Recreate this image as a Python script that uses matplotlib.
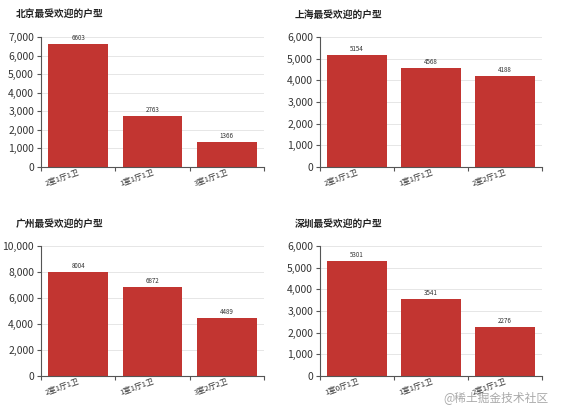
import matplotlib
matplotlib.use("Agg")
import matplotlib.pyplot as plt
from matplotlib.ticker import FuncFormatter

plt.rcParams['font.family'] = ['Noto Sans CJK SC', 'DejaVu Sans']

titles = ["北京最受欢迎的户型", "上海最受欢迎的户型", "广州最受欢迎的户型", "深圳最受欢迎的户型"]
bj_cats = ["2室1厅1卫", "1室1厅1卫", "3室1厅1卫"]
bj_vals = [6603, 2763, 1366]
sh_cats = ["2室1厅1卫", "1室1厅1卫", "2室2厅1卫"]
sh_vals = [5154, 4568, 4188]
gz_cats = ["2室1厅1卫", "1室1厅1卫", "3室2厅2卫"]
gz_vals = [8004, 6872, 4489]
sz_cats = ["1室0厅1卫", "1室1厅1卫", "2室1厅1卫"]
sz_vals = [5301, 3541, 2276]
y_max = [7000, 6000, 10000, 6000]
y_step = [1000, 1000, 2000, 1000]

BAR = '#c23531'
fig = plt.figure(figsize=(5.61, 4.15), dpi=100)

W, H = 561, 415
boxes = [(41, 37, 264, 167), (320, 37, 542, 167), (41, 246, 264, 376), (320, 246, 542, 376)]
title_pos = [(16, 15), (295, 15), (16, 224), (295, 224)]
data = [(bj_cats, bj_vals), (sh_cats, sh_vals), (gz_cats, gz_vals), (sz_cats, sz_vals)]

for i in range(4):
    l, t, r, b = boxes[i]
    ax = fig.add_axes([l / W, 1 - b / H, (r - l) / W, (b - t) / H])
    cats, vals = data[i]
    xs = list(range(len(cats)))
    ax.bar(xs, vals, width=0.8, color=BAR, zorder=2)
    ax.set_xlim(-0.5, len(cats) - 0.5)
    ax.set_ylim(0, y_max[i])
    ax.set_yticks(list(range(0, y_max[i] + 1, y_step[i])))
    ax.yaxis.set_major_formatter(FuncFormatter(lambda v, p: f"{int(v):,}"))
    ax.grid(axis='y', color='#e6e6e6', linewidth=0.7, zorder=0)
    ax.set_axisbelow(True)
    for s in ['top', 'right']:
        ax.spines[s].set_visible(False)
    for s in ['left', 'bottom']:
        ax.spines[s].set_color('#555555')
        ax.spines[s].set_linewidth(0.8)
    ax.tick_params(axis='y', labelsize=7.5, length=3, color='#555555', labelcolor='#333333', pad=2)
    ax.set_xticks([x - 0.5 for x in range(len(cats) + 1)], minor=False)
    ax.set_xticklabels([])
    ax.tick_params(axis='x', length=3, color='#555555')
    ax.set_xticks(xs, minor=True)
    ax.set_xticklabels(cats, minor=True, rotation=20, ha='right', fontsize=5.5, color='#333333')
    ax.tick_params(axis='x', which='minor', length=0, pad=1)
    for lab in ax.get_xticklabels(minor=True):
        lab.set_rotation_mode('anchor')
        lab.set_x(0)
    for x, v in zip(xs, vals):
        ax.text(x, v + y_max[i] * 0.015, str(v), ha='center', va='bottom', fontsize=4.5, color='#333333')
    tx, ty = title_pos[i]
    fig.text(tx / W, 1 - ty / H, titles[i], fontsize=7, fontweight='bold', ha='left', va='center', color='#222222')

fig.text(548 / W, 1 - 398 / H, "@稀土掘金技术社区", fontsize=8.5, color='#aaaaaa', ha='right', va='center')

fig.savefig("out.png", dpi=100, facecolor='white')
